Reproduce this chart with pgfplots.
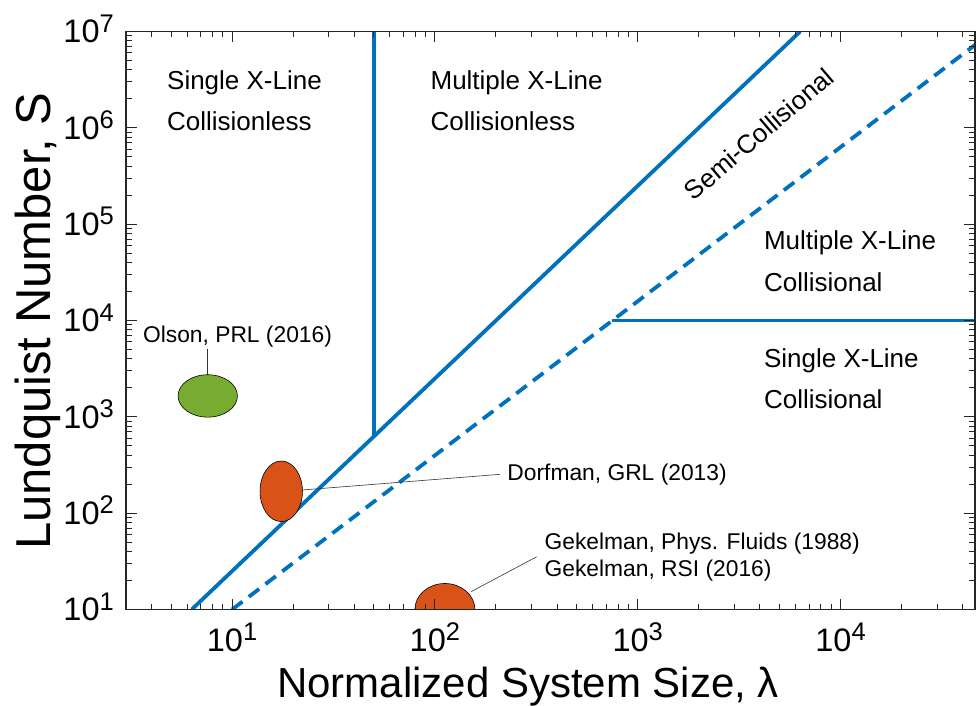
\documentclass[border=0pt]{standalone}
\usepackage{fontspec}
\setmainfont{Liberation Sans}
\usepackage{pgfplots}
\pgfplotsset{compat=1.18}

\definecolor{mblue}{RGB}{0,114,189}
\definecolor{mgreen}{RGB}{119,172,48}
\definecolor{morange}{RGB}{217,83,25}

% power-of-ten tick label set in the text font
\newcommand{\tenpow}[1]{10\raisebox{10.5bp}[0pt][0pt]{\fontsize{25.5bp}{25.5bp}\selectfont #1}}
\newcommand{\regionfont}{\fontsize{26bp}{30bp}\selectfont}
\newcommand{\notefont}{\fontsize{22.8bp}{26bp}\selectfont}

\begin{document}
\begin{tikzpicture}
\begin{axis}[
  name=ax, at={(0,0)}, anchor=south west,
  xmode=log, ymode=log,
  scale only axis, width=849bp, height=578bp,
  xmin=3, xmax=46000, ymin=10, ymax=1e7,
  axis line style={black!85, line width=1.3bp},
  xtick={10,100,1000,10000},
  xticklabels={\tenpow{1},\tenpow{2},\tenpow{3},\tenpow{4}},
  minor xtick={3,4,5,6,7,8,9,20,30,40,50,60,70,80,90,200,300,400,500,600,700,800,900,2000,3000,4000,5000,6000,7000,8000,9000,20000,30000,40000},
  ytick={10,100,1000,10000,100000,1000000,10000000},
  yticklabels={\tenpow{1},\tenpow{2},\tenpow{3},\tenpow{4},\tenpow{5},\tenpow{6},\tenpow{7}},
  minor ytick={20,30,40,50,60,70,80,90,200,300,400,500,600,700,800,900,2000,3000,4000,5000,6000,7000,8000,9000,20000,30000,40000,50000,60000,70000,80000,90000,200000,300000,400000,500000,600000,700000,800000,900000,2000000,3000000,4000000,5000000,6000000,7000000,8000000,9000000},
  major tick length=11bp, minor tick length=6bp,
  every tick/.style={black!85, line width=1bp},
  tick align=inside, xtick pos=both, ytick pos=both,
  xticklabel style={anchor=north, inner sep=0pt, yshift=-19bp, font=\fontsize{32.5bp}{36bp}\selectfont},
  yticklabel style={anchor=east, inner sep=0pt, xshift=-12bp, font=\fontsize{32.5bp}{36bp}\selectfont},
  xlabel={Normalized System Size, λ},
  ylabel={Lundquist Number, S},
  xlabel style={at={(axis description cs:0.4735,-0.1514)}, anchor=base, inner sep=0pt, font=\fontsize{42bp}{50bp}\selectfont},
  ylabel style={at={(axis description cs:-0.0895,0.499)}, anchor=base, inner sep=0pt, font=\fontsize{49bp}{55bp}\selectfont},
  axis on top,
  clip marker paths=true,
]
% regime boundaries
\addplot[mblue, line width=3.8bp] coordinates {(6.325,10) (6325,1e7)};
\addplot[mblue, line width=3.8bp] coordinates {(50,625) (50,1e7)};
\addplot[mblue, line width=3.8bp] coordinates {(750,1e4) (46000,1e4)};
\addplot[mblue, line width=3.8bp, dash pattern=on 13bp off 8bp] coordinates {(10,10) (46000,7.25e6)};

% leader lines for the experiment labels
\draw[black!80, line width=0.6bp] (axis cs:7.59,5070) -- (axis cs:7.59,2723);
\draw[black!80, line width=0.6bp] (axis cs:22.2,174) -- (axis cs:209.5,253);
\draw[black!80, line width=0.6bp] (axis cs:150.7,15.3) -- (axis cs:317.7,35.3);

% experiments
\addplot[only marks, mark=*, mark size=21.2bp,
  mark options={xscale=1.4, fill=mgreen, draw=black, line width=0.6bp}]
  coordinates {(7.59,1648)};
\addplot[only marks, mark=*, mark size=30.3bp,
  mark options={xscale=0.7, fill=morange, draw=black, line width=0.6bp}]
  coordinates {(17.48,168.7)};
\addplot[only marks, mark=*, mark size=26bp,
  mark options={xscale=1.154, fill=morange, draw=black, line width=0.6bp}]
  coordinates {(112,10)};

% regime names
\node[anchor=base west, font=\regionfont] at (axis cs:4.6,2.52e6) {Single X-Line};
\node[anchor=base west, font=\regionfont] at (axis cs:4.6,9.38e5) {Collisionless};
\node[anchor=base west, font=\regionfont] at (axis cs:91.5,2.52e6) {Multiple X-Line};
\node[anchor=base west, font=\regionfont] at (axis cs:91.5,9.38e5) {Collisionless};
\node[anchor=base west, font=\regionfont] at (axis cs:4030,5.41e4) {Multiple X-Line};
\node[anchor=base west, font=\regionfont] at (axis cs:4030,2.0e4) {Collisional};
\node[anchor=base west, font=\regionfont] at (axis cs:4030,3275) {Single X-Line};
\node[anchor=base west, font=\regionfont] at (axis cs:4030,1228) {Collisional};
\node[rotate=40.5, font=\regionfont] at (axis cs:3950,8.66e5) {Semi-Collisional};

% experiment labels
\node[anchor=base west, font=\notefont] at (axis cs:3.5,5850) {Olson, PRL (2016)};
\node[anchor=base west, font=\notefont] at (axis cs:219,217) {Dorfman, GRL (2013)};
\node[anchor=base west, font=\notefont] at (axis cs:334,41.5) {Gekelman, Phys. Fluids (1988)};
\node[anchor=base west, font=\notefont] at (axis cs:334,21.9) {Gekelman, RSI (2016)};
\end{axis}
\pgfresetboundingbox
\path[use as bounding box] ([shift={(-126bp,-96.5bp)}]ax.south west) rectangle ([shift={(850bp,609.5bp)}]ax.south west);
\end{tikzpicture}
\end{document}
